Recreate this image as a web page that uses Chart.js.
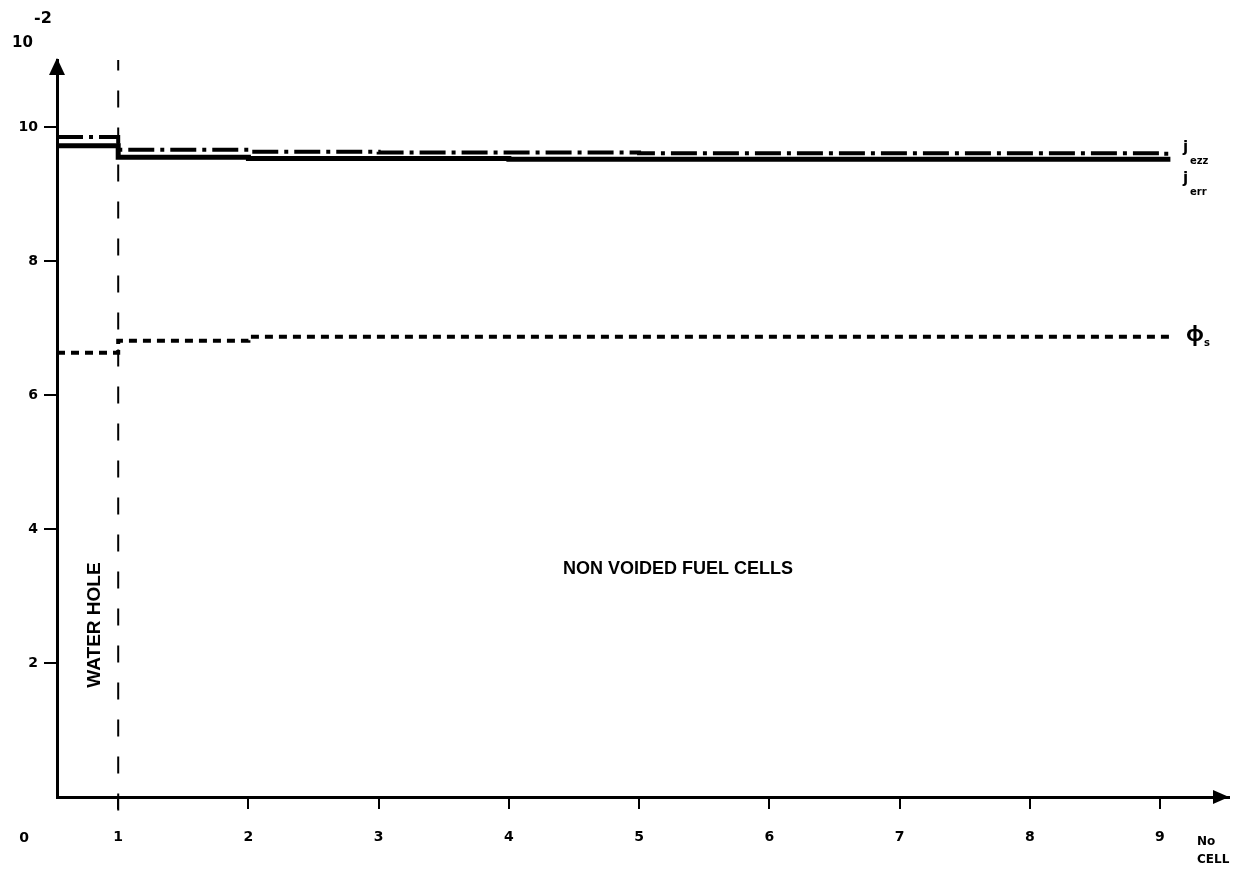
<!DOCTYPE html>
<html>
<head>
<meta charset="utf-8">
<script src="https://cdn.jsdelivr.net/npm/chart.js@4/dist/chart.umd.min.js"></script>
<style>
  body { margin: 0; background: #fff; }
  canvas { display: block; }
</style>
</head>
<body>
<canvas id="chart" width="1240" height="874"></canvas>
<script>
// cell boundaries: water hole starts at the axis, fuel cells 1..9, last point closes the line
const cellX = [0.53, 1, 2, 3, 4, 5, 6, 7, 8, 9, 9.08];
const jzz  = [9.85, 9.66, 9.63, 9.62, 9.62, 9.61, 9.61, 9.61, 9.61, 9.60, 9.60];
const jrr  = [9.72, 9.55, 9.53, 9.53, 9.52, 9.52, 9.52, 9.52, 9.52, 9.52, 9.52];
const phiS = [6.63, 6.81, 6.87, 6.87, 6.87, 6.87, 6.87, 6.87, 6.87, 6.87, 6.87];
const xTicks = [1, 2, 3, 4, 5, 6, 7, 8, 9];
const yTicks = [2, 4, 6, 8, 10];
const dividerX = [1, 1];
const dividerY = [-0.2, 11];

const tickFont = { family: "'DejaVu Sans', sans-serif", size: 14, weight: 'bold' };
const black = '#000';

function pts(xs, ys) {
    return xs.map((x, i) => ({ x: x, y: ys[i] }));
}

// axis arrows and the free text labels of the plot
const annotations = {
    id: 'annotations',
    afterDraw: (chart) => {
        const ctx = chart.ctx;
        const area = chart.chartArea;
        const ys = chart.scales.y;
        ctx.save();
        ctx.fillStyle = black;

        // arrow heads
        ctx.beginPath();
        ctx.moveTo(area.left, area.top - 2);
        ctx.lineTo(area.left - 8, area.top + 15);
        ctx.lineTo(area.left + 8, area.top + 15);
        ctx.closePath();
        ctx.fill();
        ctx.beginPath();
        ctx.moveTo(area.right, area.bottom);
        ctx.lineTo(area.right - 16, area.bottom - 7);
        ctx.lineTo(area.right - 16, area.bottom + 7);
        ctx.closePath();
        ctx.fill();

        ctx.textBaseline = 'middle';
        ctx.textAlign = 'center';
        ctx.font = "bold 14px 'DejaVu Sans', sans-serif";
        ctx.fillText('0', 24, 838);
        ctx.textAlign = 'left';
        ctx.font = "bold 15px 'DejaVu Sans', sans-serif";
        ctx.fillText('10', 12, 43);
        ctx.font = "bold 16px 'DejaVu Sans', sans-serif";
        ctx.fillText('-2', 34, 19);

        ctx.font = "bold 12px 'DejaVu Sans', sans-serif";
        ctx.fillText('No', 1197, 842);
        ctx.fillText('CELL', 1197, 860);

        // series labels
        ctx.font = "bold 15px 'DejaVu Sans', sans-serif";
        ctx.fillText('j', 1183, ys.getPixelForValue(jzz[jzz.length - 1]) - 6);
        ctx.fillText('j', 1183, ys.getPixelForValue(jrr[jrr.length - 1]) + 20);
        ctx.font = "bold 22px 'Noto Sans', sans-serif";
        ctx.fillText('\u03C6', 1186, ys.getPixelForValue(phiS[phiS.length - 1]) - 2);
        ctx.font = "bold 10px 'DejaVu Sans', sans-serif";
        ctx.fillText('ezz', 1190, ys.getPixelForValue(jzz[jzz.length - 1]) + 8);
        ctx.fillText('err', 1190, ys.getPixelForValue(jrr[jrr.length - 1]) + 33);
        ctx.fillText('s', 1204, ys.getPixelForValue(phiS[phiS.length - 1]) + 7);

        // region labels
        ctx.font = "bold 18px 'Liberation Sans', sans-serif";
        ctx.textAlign = 'left';
        ctx.fillText('NON VOIDED FUEL CELLS', 563, 569);
        ctx.save();
        ctx.translate(95, 625);
        ctx.rotate(-Math.PI / 2);
        ctx.textAlign = 'center';
        ctx.font = "bold 19px 'Liberation Sans', sans-serif";
        ctx.fillText('WATER HOLE', 0, 0);
        ctx.restore();

        ctx.restore();
    }
};

new Chart(document.getElementById('chart'), {
    type: 'line',
    data: {
        datasets: [
            {
                label: 'jezz', data: pts(cellX, jzz), stepped: 'before',
                borderColor: black, borderWidth: 4, borderDash: [26, 6, 4, 6],
                pointRadius: 0
            },
            {
                label: 'jerr', data: pts(cellX, jrr), stepped: 'before',
                borderColor: black, borderWidth: 5,
                pointRadius: 0
            },
            {
                label: 'phis', data: pts(cellX, phiS), stepped: 'before',
                borderColor: black, borderWidth: 4, borderDash: [8, 6],
                pointRadius: 0
            },
            {
                label: 'divider', data: pts(dividerX, dividerY),
                borderColor: black, borderWidth: 2, borderDash: [17, 20],
                pointRadius: 0, clip: false
            }
        ]
    },
    options: {
        responsive: false,
        animation: false,
        layout: { padding: { top: 60, right: 11, left: 0, bottom: 0 } },
        plugins: {
            legend: { display: false },
            tooltip: { enabled: false }
        },
        scales: {
            x: {
                type: 'linear', min: 0.53, max: 9.53,
                afterBuildTicks: (s) => { s.ticks = xTicks.map(v => ({ value: v })); },
                afterFit: (s) => { s.height = 77; },
                grid: { drawOnChartArea: false, drawTicks: true, tickLength: 12, color: black, lineWidth: 2 },
                border: { display: true, color: black, width: 3 },
                ticks: { font: tickFont, color: black, padding: 20, maxRotation: 0 }
            },
            y: {
                type: 'linear', min: 0, max: 11,
                afterBuildTicks: (s) => { s.ticks = yTicks.map(v => ({ value: v })); },
                afterFit: (s) => { s.width = 57; },
                grid: { drawOnChartArea: false, drawTicks: true, tickLength: 13, color: black, lineWidth: 2 },
                border: { display: true, color: black, width: 3 },
                ticks: { font: tickFont, color: black, padding: 6 }
            }
        }
    },
    plugins: [annotations]
});
</script>
</body>
</html>
